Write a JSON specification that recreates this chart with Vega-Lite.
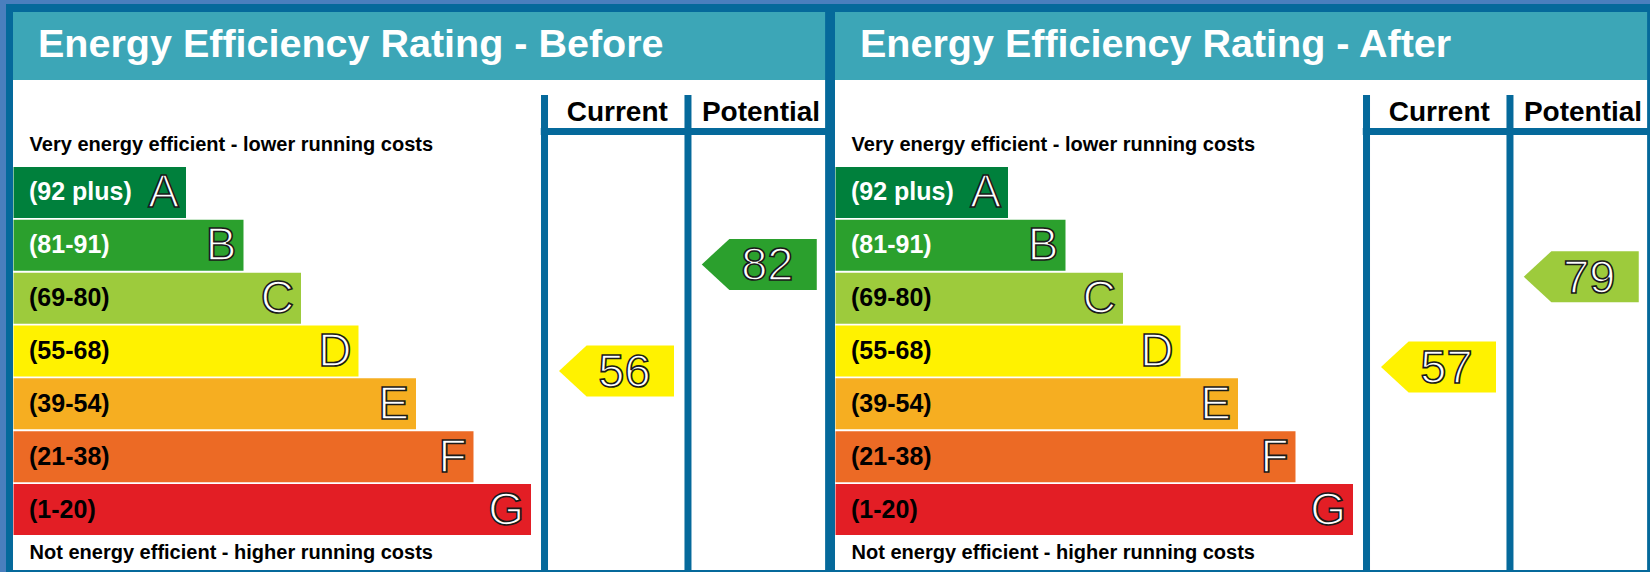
{
  "$schema": "https://vega.github.io/schema/vega-lite/v6.json",
  "background": "#4a7fbe",
  "padding": {"left": 6, "top": 4, "right": 0, "bottom": 0},
  "bounds": "flush",
  "data": {"values": [
    {"stage": "Before", "kind": "title", "title": "Energy Efficiency Rating - Before", "colA": "Current", "colB": "Potential", "top": "Very energy efficient - lower running costs", "bottom": "Not energy efficient - higher running costs"},
    {"stage": "After", "kind": "title", "title": "Energy Efficiency Rating - After", "colA": "Current", "colB": "Potential", "top": "Very energy efficient - lower running costs", "bottom": "Not energy efficient - higher running costs"},
    {"stage": "Before", "kind": "band", "band": "A", "range": "(92 plus)", "rank": 1},
    {"stage": "Before", "kind": "band", "band": "B", "range": "(81-91)", "rank": 2},
    {"stage": "Before", "kind": "band", "band": "C", "range": "(69-80)", "rank": 3},
    {"stage": "Before", "kind": "band", "band": "D", "range": "(55-68)", "rank": 4},
    {"stage": "Before", "kind": "band", "band": "E", "range": "(39-54)", "rank": 5},
    {"stage": "Before", "kind": "band", "band": "F", "range": "(21-38)", "rank": 6},
    {"stage": "Before", "kind": "band", "band": "G", "range": "(1-20)", "rank": 7},
    {"stage": "After", "kind": "band", "band": "A", "range": "(92 plus)", "rank": 1},
    {"stage": "After", "kind": "band", "band": "B", "range": "(81-91)", "rank": 2},
    {"stage": "After", "kind": "band", "band": "C", "range": "(69-80)", "rank": 3},
    {"stage": "After", "kind": "band", "band": "D", "range": "(55-68)", "rank": 4},
    {"stage": "After", "kind": "band", "band": "E", "range": "(39-54)", "rank": 5},
    {"stage": "After", "kind": "band", "band": "F", "range": "(21-38)", "rank": 6},
    {"stage": "After", "kind": "band", "band": "G", "range": "(1-20)", "rank": 7},
    {"stage": "Before", "kind": "rating", "column": "Current", "rating": 56, "band": "D"},
    {"stage": "Before", "kind": "rating", "column": "Potential", "rating": 82, "band": "B"},
    {"stage": "After", "kind": "rating", "column": "Current", "rating": 57, "band": "D"},
    {"stage": "After", "kind": "rating", "column": "Potential", "rating": 79, "band": "C"}
  ]},
  "facet": {"column": {"field": "stage", "type": "nominal", "sort": ["Before", "After"], "header": null}},
  "spacing": 0,
  "spec": {
    "width": 822,
    "height": 568,
    "resolve": {"scale": {"y": "independent"}},
    "layer": [
      {
        "layer": [
          {
            "transform": [{"filter": "datum.kind == 'title'"}],
            "mark": {"type": "rect", "color": "#ffffff"},
            "encoding": {
              "x": {"datum": -2.0087, "type": "quantitative", "axis": null, "scale": {"domain": [-2.1304, 12.1652], "nice": false, "zero": false, "padding": 0}},
              "x2": {"datum": 12.115},
              "y": {"datum": -1.127, "type": "quantitative", "axis": null, "scale": {"domain": [-2.5647, 8.181], "nice": false, "zero": false, "reverse": true, "padding": 0}},
              "y2": {"datum": 8.143}
            }
          },
          {
            "transform": [{"filter": "datum.kind == 'title'"}],
            "mark": {"type": "rect", "color": "#3ca6b7"},
            "encoding": {
              "x": {"datum": -2.0087, "type": "quantitative"},
              "x2": {"datum": 12.115},
              "y": {"datum": -2.413, "type": "quantitative"},
              "y2": {"datum": -1.127}
            }
          },
          {
            "transform": [{"filter": "datum.kind == 'title'"}],
            "mark": {"type": "text", "align": "left", "baseline": "alphabetic", "fontSize": 39.5, "fontWeight": "bold", "color": "white", "font": "Liberation Sans"},
            "encoding": {
              "x": {"datum": -1.574, "type": "quantitative"},
              "y": {"datum": -1.56, "type": "quantitative"},
              "text": {"field": "title"}
            }
          },
          {
            "transform": [{"filter": "datum.kind == 'title'"}],
            "mark": {"type": "rule", "color": "#05699b", "strokeWidth": 7},
            "encoding": {
              "x": {"datum": 7.235, "type": "quantitative"},
              "y": {"datum": -0.843, "type": "quantitative"},
              "y2": {"datum": 8.181}
            }
          },
          {
            "transform": [{"filter": "datum.kind == 'title'"}],
            "mark": {"type": "rule", "color": "#05699b", "strokeWidth": 7},
            "encoding": {
              "x": {"datum": 9.73, "type": "quantitative"},
              "y": {"datum": -0.843, "type": "quantitative"},
              "y2": {"datum": 8.181}
            }
          },
          {
            "transform": [{"filter": "datum.kind == 'title'"}],
            "mark": {"type": "rule", "color": "#05699b", "strokeWidth": 7},
            "encoding": {
              "x": {"datum": 7.17, "type": "quantitative"},
              "x2": {"datum": 12.1652},
              "y": {"datum": -0.153, "type": "quantitative"}
            }
          },
          {
            "transform": [{"filter": "datum.kind == 'title'"}],
            "mark": {"type": "text", "align": "center", "baseline": "alphabetic", "fontSize": 28, "fontWeight": "bold", "color": "black", "font": "Liberation Sans"},
            "encoding": {
              "x": {"datum": 8.5, "type": "quantitative"},
              "y": {"datum": -0.351, "type": "quantitative"},
              "text": {"field": "colA"}
            }
          },
          {
            "transform": [{"filter": "datum.kind == 'title'"}],
            "mark": {"type": "text", "align": "center", "baseline": "alphabetic", "fontSize": 28, "fontWeight": "bold", "color": "black", "font": "Liberation Sans"},
            "encoding": {
              "x": {"datum": 11.0, "type": "quantitative"},
              "y": {"datum": -0.351, "type": "quantitative"},
              "text": {"field": "colB"}
            }
          },
          {
            "transform": [{"filter": "datum.kind == 'title'"}],
            "mark": {"type": "text", "align": "left", "baseline": "alphabetic", "fontSize": 20, "fontWeight": "bold", "color": "black", "font": "Liberation Sans"},
            "encoding": {
              "x": {"datum": -1.72, "type": "quantitative"},
              "y": {"datum": 0.21, "type": "quantitative"},
              "text": {"field": "top"}
            }
          },
          {
            "transform": [{"filter": "datum.kind == 'title'"}],
            "mark": {"type": "text", "align": "left", "baseline": "alphabetic", "fontSize": 20, "fontWeight": "bold", "color": "black", "font": "Liberation Sans"},
            "encoding": {
              "x": {"datum": -1.72, "type": "quantitative"},
              "y": {"datum": 7.93, "type": "quantitative"},
              "text": {"field": "bottom"}
            }
          },
          {
            "transform": [{"filter": "datum.kind == 'band'"}],
            "mark": {"type": "bar", "orient": "horizontal", "height": 51},
            "encoding": {
              "x": {"field": "rank", "type": "quantitative"},
              "x2": {"datum": -2},
              "y": {"field": "rank", "type": "quantitative"},
              "color": {"field": "band", "type": "nominal", "legend": null, "scale": {"domain": ["A", "B", "C", "D", "E", "F", "G"], "range": ["#00803c", "#2ba02d", "#9dcb3c", "#fff200", "#f6ae21", "#ec6a25", "#e31e25"]}}
            }
          },
          {
            "transform": [{"filter": "datum.kind == 'band'"}],
            "mark": {"type": "text", "align": "left", "baseline": "middle", "fontSize": 25, "fontWeight": "bold", "font": "Liberation Sans"},
            "encoding": {
              "x": {"datum": -1.73, "type": "quantitative"},
              "y": {"field": "rank", "type": "quantitative"},
              "text": {"field": "range"},
              "color": {"condition": {"test": "datum.band == 'A' || datum.band == 'B'", "value": "white"}, "value": "black"}
            }
          },
          {
            "transform": [{"filter": "datum.kind == 'band'"}],
            "mark": {"type": "text", "align": "right", "baseline": "middle", "dx": -7, "dy": 1, "fontSize": 46, "font": "Liberation Sans", "fill": "white", "stroke": "#1a1a1a", "strokeWidth": 1.6},
            "encoding": {
              "x": {"field": "rank", "type": "quantitative"},
              "y": {"field": "rank", "type": "quantitative"},
              "text": {"field": "band"}
            }
          }
        ]
      },
      {
        "layer": [
          {
            "transform": [{"filter": "datum.kind == 'rating' && datum.column == 'Current'"}],
            "mark": {"type": "point", "shape": "M-1,0L-0.52,-0.4435L1,-0.4435L1,0.4435L-0.52,0.4435Z", "size": 13225, "filled": true, "opacity": 1, "strokeWidth": 0},
            "encoding": {
              "x": {"datum": 8.487, "type": "quantitative"},
              "y": {"field": "rating", "type": "quantitative", "axis": null, "scale": {"domain": [6.98, 145.51], "nice": false, "zero": false, "padding": 0}},
              "color": {"field": "band", "type": "nominal", "legend": null}
            }
          },
          {
            "transform": [{"filter": "datum.kind == 'rating' && datum.column == 'Potential'"}],
            "mark": {"type": "point", "shape": "M-1,0L-0.52,-0.4435L1,-0.4435L1,0.4435L-0.52,0.4435Z", "size": 13225, "filled": true, "opacity": 1, "strokeWidth": 0},
            "encoding": {
              "x": {"datum": 10.97, "type": "quantitative"},
              "y": {"field": "rating", "type": "quantitative"},
              "color": {"field": "band", "type": "nominal", "legend": null}
            }
          },
          {
            "transform": [{"filter": "datum.kind == 'rating' && datum.column == 'Current'"}],
            "mark": {"type": "text", "align": "center", "baseline": "middle", "dx": 8, "dy": 2, "fontSize": 47, "font": "Liberation Sans", "fill": "white", "stroke": "#1a1a1a", "strokeWidth": 1.6},
            "encoding": {
              "x": {"datum": 8.487, "type": "quantitative"},
              "y": {"field": "rating", "type": "quantitative"},
              "text": {"field": "rating", "type": "quantitative"}
            }
          },
          {
            "transform": [{"filter": "datum.kind == 'rating' && datum.column == 'Potential'"}],
            "mark": {"type": "text", "align": "center", "baseline": "middle", "dx": 8, "dy": 2, "fontSize": 47, "font": "Liberation Sans", "fill": "white", "stroke": "#1a1a1a", "strokeWidth": 1.6},
            "encoding": {
              "x": {"datum": 10.97, "type": "quantitative"},
              "y": {"field": "rating", "type": "quantitative"},
              "text": {"field": "rating", "type": "quantitative"}
            }
          }
        ]
      }
    ]
  },
  "config": {
    "view": {"stroke": null, "fill": "#05699b"},
    "axis": {"disable": true},
    "legend": {"disable": true},
    "font": "Liberation Sans"
  }
}
